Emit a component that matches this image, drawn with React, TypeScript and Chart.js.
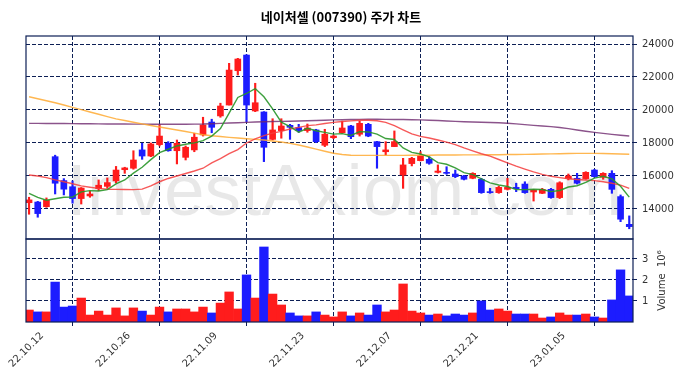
import React, { useEffect, useRef } from 'react';
import { Chart, registerables } from 'chart.js';
Chart.register(...registerables);

const title = '네이처셀 (007390) 주가 차트';
const watermark = 'InvestAxiom.com';

const dates = [
  '22.10.12','22.10.13','22.10.14','22.10.17','22.10.18','22.10.19','22.10.20','22.10.21','22.10.24','22.10.25',
  '22.10.26','22.10.27','22.10.28','22.10.31','22.11.01','22.11.02','22.11.03','22.11.04','22.11.07','22.11.08',
  '22.11.09','22.11.10','22.11.11','22.11.14','22.11.15','22.11.16','22.11.17','22.11.18','22.11.21','22.11.22',
  '22.11.23','22.11.24','22.11.25','22.11.28','22.11.29','22.11.30','22.12.01','22.12.02','22.12.05','22.12.06',
  '22.12.07','22.12.08','22.12.09','22.12.12','22.12.13','22.12.14','22.12.15','22.12.16','22.12.19','22.12.20',
  '22.12.21','22.12.22','22.12.23','22.12.26','22.12.27','22.12.28','22.12.29','23.01.02','23.01.03','23.01.04',
  '23.01.05','23.01.06','23.01.09','23.01.10','23.01.11','23.01.12','23.01.13','23.01.16','23.01.17','23.01.18',
];

const opens = [
  14380,14420,14140,17170,15720,15350,14630,14790,15230,15370,
  15700,16380,16470,17580,17210,17900,17980,17530,17130,17580,
  18490,19270,19640,20300,22380,23330,19940,19880,18220,18750,
  19070,18930,18750,18790,17860,18320,18620,19030,18530,19130,
  18080,17470,17780,16060,16750,16930,17010,16220,16220,16120,
  16000,15860,15800,15050,14990,15190,15310,15510,15030,14950,
  15190,14690,15840,15860,15840,16360,15920,16160,14750,13070,
];
const highs = [
  14710,14460,14670,17260,15840,15700,15300,15090,15760,15880,
  16580,16530,17530,17980,18000,19110,18080,18180,17820,18590,
  19560,19440,20410,22830,23130,23350,21620,19900,19470,19470,
  19130,19130,19150,18830,18830,18480,19320,19070,19330,19190,
  18100,18080,18730,17070,17130,17470,17170,16670,16560,16360,
  16040,16200,15860,15250,15390,15860,15560,15650,15190,15250,
  15250,15650,16120,16160,16260,16400,16200,16320,14850,13580,
];
const lows = [
  13680,13500,14100,14910,14850,14350,14300,14710,15110,15250,
  15580,16160,16410,17010,17170,17820,17500,16730,16970,17470,
  18420,18620,19560,20300,22120,19290,19900,16870,18180,18290,
  18220,18650,18650,18020,17780,18260,18590,18260,18420,18380,
  16470,17270,17780,15250,16610,16910,16710,16180,16100,15900,
  15760,15830,14950,14950,14950,15150,15050,14950,14480,14930,
  14650,14630,15760,15510,15800,15920,15800,14950,13230,12800,
];
const closes = [
  14550,13720,14530,15560,15200,14630,15270,14910,15440,15600,
  16360,16490,16970,17210,17940,18420,17530,17980,17740,18350,
  19090,18950,20240,22420,23090,20300,20440,17740,18790,19030,
  18950,18750,18910,18080,18530,18420,18910,18380,19190,18420,
  17780,17580,18080,16670,17070,17230,16770,16300,16160,15960,
  15800,16160,14990,14990,15310,15310,15230,14990,15150,15190,
  14690,15590,16000,15560,16220,15960,16160,15190,13380,12930,
];
// volume in millions of shares
const volumeMillions = [
  0.57,0.48,0.48,1.90,0.71,0.76,1.14,0.33,0.52,0.33,
  0.67,0.29,0.67,0.52,0.33,0.71,0.48,0.62,0.62,0.48,
  0.71,0.43,0.90,1.43,0.62,2.24,1.14,3.57,1.33,0.81,
  0.43,0.29,0.29,0.48,0.33,0.24,0.48,0.29,0.43,0.33,
  0.81,0.48,0.57,1.81,0.52,0.43,0.33,0.38,0.29,0.38,
  0.33,0.43,1.00,0.57,0.62,0.52,0.38,0.38,0.38,0.19,
  0.24,0.43,0.33,0.33,0.38,0.24,0.19,1.05,2.48,1.24,
];
const ma5 = [
  14950,14700,14530,14620,14710,14720,15040,15110,15090,15170,
  15520,15760,16170,16530,16990,17410,17620,17820,17920,18010,
  18140,18420,18870,19810,20760,21000,21300,20800,20070,19260,
  18990,18650,18890,18740,18640,18540,18570,18460,18690,18670,
  18540,18270,18210,17700,17430,17330,17160,16810,16710,16490,
  16200,16080,15820,15580,15450,15360,15170,15170,15200,15180,
  15050,15120,15330,15410,15610,15870,15980,15820,15380,14720,
];
const ma20 = [
  16060,16000,15900,15760,15650,15530,15400,15320,15250,15200,
  15190,15180,15170,15200,15400,15650,15850,16000,16150,16300,
  16470,16800,17050,17350,17600,18000,18250,18450,18600,18700,
  18850,18950,19050,19100,19180,19250,19300,19340,19380,19380,
  19350,19250,19050,18800,18550,18400,18300,18180,18050,17900,
  17700,17520,17350,17200,17000,16800,16600,16420,16250,16100,
  15980,15900,15830,15790,15760,15720,15650,15560,15450,15250,
];
const ma60 = [
  20800,20680,20560,20440,20300,20160,20020,19880,19740,19600,
  19460,19360,19260,19160,19060,18970,18880,18790,18700,18600,
  18500,18440,18390,18340,18300,18260,18220,18180,18120,18060,
  17980,17880,17760,17630,17500,17380,17300,17260,17250,17250,
  17250,17250,17250,17250,17260,17260,17260,17270,17270,17270,
  17280,17280,17280,17290,17290,17300,17300,17310,17320,17330,
  17340,17350,17360,17370,17370,17370,17360,17350,17330,17320,
];
const ma120 = [
  19190,19190,19185,19180,19180,19175,19170,19165,19160,19155,
  19150,19150,19145,19145,19140,19140,19140,19140,19140,19145,
  19150,19170,19190,19210,19230,19250,19270,19285,19300,19310,
  19320,19335,19350,19365,19380,19400,19410,19420,19430,19435,
  19435,19430,19425,19420,19410,19400,19380,19360,19335,19310,
  19290,19270,19255,19240,19225,19200,19160,19110,19070,19030,
  18990,18940,18870,18790,18710,18640,18580,18520,18470,18420,
];

const xTickIndices = [0, 10, 20, 30, 40, 50, 60];
const priceTicks = [14000, 16000, 18000, 20000, 22000, 24000];
const volumeTicks = [1, 2, 3];

const NAVY = '#0d1f55';
const TEXT = '#333333';
const RED = 'rgb(255,28,28)';
const BLUE = 'rgb(28,28,255)';

export default function App() {
  const ref = useRef<HTMLCanvasElement>(null);
  useEffect(() => {
    const canvas = ref.current!;
    const idx = dates.map((_, i) => i);
    const colors = idx.map((i) => (closes[i] >= opens[i] ? RED : BLUE));
    const line = (label: string, arr: number[], color: string) => ({
      type: 'line' as const,
      label,
      data: idx.map((i) => ({ x: i, y: arr[i] })),
      borderColor: color,
      borderWidth: 1.4,
      pointRadius: 0,
      tension: 0,
      yAxisID: 'y',
      order: 0,
    });
    const framePlugin = {
      id: 'frame',
      beforeDraw(chart: any) {
        const { ctx, chartArea } = chart;
        ctx.save();
        ctx.fillStyle = '#ffffff';
        ctx.fillRect(0, 0, chart.width, chart.height);
        ctx.font = '73px "Liberation Sans", Arial, sans-serif';
        ctx.fillStyle = 'rgba(0,0,0,0.09)';
        ctx.textAlign = 'center';
        ctx.textBaseline = 'alphabetic';
        ctx.fillText(watermark, (chartArea.left + chartArea.right) / 2 + 15, 215);
        ctx.font = 'bold 13px "Noto Sans CJK KR", sans-serif';
        ctx.fillStyle = '#000000';
        ctx.textBaseline = 'middle';
        ctx.fillText(title, 341, 17);
        ctx.restore();
      },
      afterDraw(chart: any) {
        const { ctx, chartArea, scales } = chart;
        ctx.save();
        ctx.strokeStyle = NAVY;
        ctx.lineWidth = 1.2;
        const w = chartArea.right - chartArea.left;
        ctx.strokeRect(chartArea.left, scales.y.top, w, scales.y.bottom - scales.y.top);
        ctx.strokeRect(chartArea.left, scales.yVol.top, w, scales.yVol.bottom - scales.yVol.top);
        ctx.translate(662, (scales.yVol.top + scales.yVol.bottom) / 2);
        ctx.rotate(-Math.PI / 2);
        ctx.font = '10px "DejaVu Sans", sans-serif';
        ctx.fillStyle = TEXT;
        ctx.textAlign = 'center';
        ctx.textBaseline = 'middle';
        ctx.fillText('Volume  10⁶', 0, 0);
        ctx.restore();
      },
    };
    const tickFont = { family: '"DejaVu Sans", sans-serif', size: 10 };
    const chart = new Chart(canvas, {
      type: 'bar',
      data: {
        datasets: [
          line('MA5', ma5, 'rgba(40,150,40,0.9)'),
          line('MA20', ma20, 'rgba(245,60,60,0.85)'),
          line('MA60', ma60, 'rgba(255,170,50,0.85)'),
          line('MA120', ma120, 'rgba(110,40,110,0.8)'),
          {
            type: 'bar',
            label: 'wick',
            data: idx.map((i) => ({ x: i, y: [lows[i], highs[i]] })),
            backgroundColor: colors,
            barThickness: 1.5,
            grouped: false,
            yAxisID: 'y',
            order: 2,
          } as any,
          {
            type: 'bar',
            label: 'body',
            data: idx.map((i) => ({ x: i, y: [opens[i], closes[i]] })),
            backgroundColor: colors,
            barThickness: 6,
            grouped: false,
            yAxisID: 'y',
            order: 1,
          } as any,
          {
            type: 'bar',
            label: 'volume',
            data: idx.map((i) => ({ x: i, y: volumeMillions[i] })),
            backgroundColor: colors,
            barPercentage: 1,
            categoryPercentage: 1,
            grouped: false,
            yAxisID: 'yVol',
            order: 3,
          } as any,
        ],
      },
      options: {
        responsive: false,
        animation: false,
        devicePixelRatio: 1,
        layout: { padding: { left: 26, top: 36, right: 0, bottom: 0 } },
        plugins: { legend: { display: false }, tooltip: { enabled: false } },
        scales: {
          x: {
            type: 'linear',
            position: 'bottom',
            min: -0.35,
            max: 69.43,
            offset: false,
            afterBuildTicks: (s: any) => {
              s.ticks = xTickIndices.map((v) => ({ value: v }));
            },
            afterFit: (s: any) => {
              s.height = 56;
              s.paddingLeft = 0;
              s.paddingRight = 0;
            },
            grid: { color: NAVY, lineWidth: 1, drawTicks: true, tickLength: 4, tickColor: NAVY },
            border: { display: false, dash: [4, 2] },
            ticks: {
              autoSkip: false,
              minRotation: 45,
              maxRotation: 45,
              labelOffset: 13,
              padding: 4,
              font: tickFont,
              color: TEXT,
              callback: (v: any) => dates[Math.round(Number(v))] ?? '',
            },
          },
          y: {
            type: 'linear',
            position: 'right',
            stack: 'panels',
            stackWeight: 203,
            min: 12180,
            max: 24485,
            afterBuildTicks: (s: any) => {
              s.ticks = priceTicks.map((v) => ({ value: v }));
            },
            afterFit: (s: any) => {
              s.width = 50;
              s.paddingTop = 0;
              s.paddingBottom = 0;
            },
            grid: { color: NAVY, lineWidth: 1, drawTicks: true, tickLength: 4, tickColor: NAVY },
            border: { display: false, dash: [4, 2] },
            ticks: { padding: 5, font: tickFont, color: TEXT, callback: (v: any) => String(v) },
          },
          yVol: {
            type: 'linear',
            position: 'right',
            stack: 'panels',
            stackWeight: 83,
            min: 0,
            max: 3.95,
            afterBuildTicks: (s: any) => {
              s.ticks = volumeTicks.map((v) => ({ value: v }));
            },
            afterFit: (s: any) => {
              s.width = 50;
              s.paddingTop = 0;
              s.paddingBottom = 0;
            },
            grid: { color: NAVY, lineWidth: 1, drawTicks: true, tickLength: 4, tickColor: NAVY },
            border: { display: false, dash: [4, 2] },
            ticks: { padding: 5, font: tickFont, color: TEXT, callback: (v: any) => String(v) },
          },
        },
      } as any,
      plugins: [framePlugin],
    });
    return () => chart.destroy();
  }, []);
  return (
    <canvas
      ref={ref}
      width={683}
      height={378}
      style={{ position: 'absolute', left: 0, top: 0, width: 683, height: 378 }}
    />
  );
}
